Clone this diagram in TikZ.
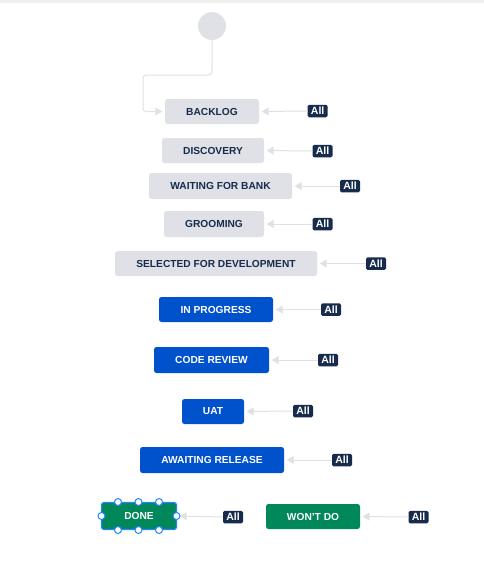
\documentclass[tikz,border=0pt]{standalone}
\usepackage{fontspec}
\setmainfont{Liberation Sans}
\usetikzlibrary{arrows.meta}
\definecolor{boxgray}{HTML}{DFE1E6}
\definecolor{navy}{HTML}{172B4D}
\definecolor{jblue}{HTML}{0052CC}
\definecolor{jgreen}{HTML}{00875A}
\definecolor{selblue}{HTML}{2684FF}
\definecolor{arrowgray}{HTML}{DFE1E6}
\definecolor{topband}{HTML}{EFEFEF}
\tikzset{
  status/.style={rectangle, rounded corners=2.5pt, inner sep=0pt, minimum height=25pt,
    font=\fontsize{10.2}{12}\selectfont\bfseries},
  todo/.style={status, fill=boxgray, text=navy},
  prog/.style={status, fill=jblue, text=white},
  donebox/.style={status, fill=jgreen, text=white},
  allbadge/.style={rectangle, rounded corners=1.5pt, fill=navy, text=white, inner sep=0pt,
    minimum width=20pt, minimum height=12.5pt, font=\fontsize{10.5}{12}\selectfont\bfseries},
  trans/.style={draw=arrowgray, line width=1pt, -{Triangle[length=7pt,width=8pt]}, shorten >=2.5pt},
  handle/.style={circle, draw=selblue, fill=white, line width=1pt, inner sep=0pt, minimum size=7pt}
}
\begin{document}
\begin{tikzpicture}[x=1pt,y=-1pt]
\useasboundingbox (0,0) rectangle (484,576);
\fill[topband] (0,0) rectangle (484,3);
\node[circle, fill=boxgray, minimum size=28pt, inner sep=0pt] (start) at (212,26) {};

\node[todo, minimum width=94pt] (backlog) at (212,111.5) {BACKLOG};
\node[todo, minimum width=102pt] (discovery) at (213,150.5) {DISCOVERY};
\node[todo, minimum width=143pt, minimum height=26pt] (bank) at (220.5,186) {WAITING FOR BANK};
\node[todo, minimum width=100pt, minimum height=26pt] (grooming) at (214,224) {GROOMING};
\node[todo, minimum width=202pt] (selected) at (216,263.5) {SELECTED FOR DEVELOPMENT};
\node[prog, minimum width=114pt] (inprogress) at (216,309.5) {IN PROGRESS};
\node[prog, minimum width=115pt, minimum height=26pt] (review) at (211.5,360) {CODE REVIEW};
\node[prog, minimum width=62pt] (uat) at (213,411.5) {UAT};
\node[prog, minimum width=144pt, minimum height=26pt] (awaiting) at (212,460) {AWAITING RELEASE};
\node[donebox, minimum width=75pt, minimum height=27pt, draw=selblue, line width=1.2pt] (done) at (139,516) {DONE};
\node[donebox, minimum width=94pt] (wontdo) at (313,516.5) {WON'T DO};

\node[allbadge] (a1) at (317.7,111) {All};
\node[allbadge] (a2) at (322.5,151) {All};
\node[allbadge] (a3) at (350,186) {All};
\node[allbadge] (a4) at (322.5,224) {All};
\node[allbadge] (a5) at (376,263.5) {All};
\node[allbadge] (a6) at (331,309.5) {All};
\node[allbadge] (a7) at (328,360) {All};
\node[allbadge] (a8) at (303,411) {All};
\node[allbadge] (a9) at (342,460) {All};
\node[allbadge] (a10) at (233,517) {All};
\node[allbadge] (a11) at (418.5,517) {All};

\coordinate (c1) at (212,75);
\coordinate (c2) at (143,75);
\coordinate (c3) at (143,111.5);
\draw[trans, rounded corners=3pt] (start.south) -- (c1) -- (c2) -- (c3) -- (backlog.west);

\draw[trans] (a1.west) -- (backlog.east);
\draw[trans] (a2.west) -- (discovery.east);
\draw[trans] (a3.west) -- (bank.east);
\draw[trans] (a4.west) -- (grooming.east);
\draw[trans] (a5.west) -- (selected.east);
\draw[trans] (a6.west) -- (inprogress.east);
\draw[trans] (a7.west) -- (review.east);
\draw[trans] (a8.west) -- (uat.east);
\draw[trans] (a9.west) -- (awaiting.east);
\draw[trans] (a10.west) -- (done.east);
\draw[trans] (a11.west) -- (wontdo.east);

\node[handle] (h1) at (118,502) {};
\node[handle] (h2) at (138.5,502) {};
\node[handle] (h3) at (159,502) {};
\node[handle] (h4) at (118,530) {};
\node[handle] (h5) at (138.5,530) {};
\node[handle] (h6) at (159,530) {};
\node[handle] (h7) at (101.5,516) {};
\node[handle] (h8) at (176.5,516) {};
\end{tikzpicture}
\end{document}
